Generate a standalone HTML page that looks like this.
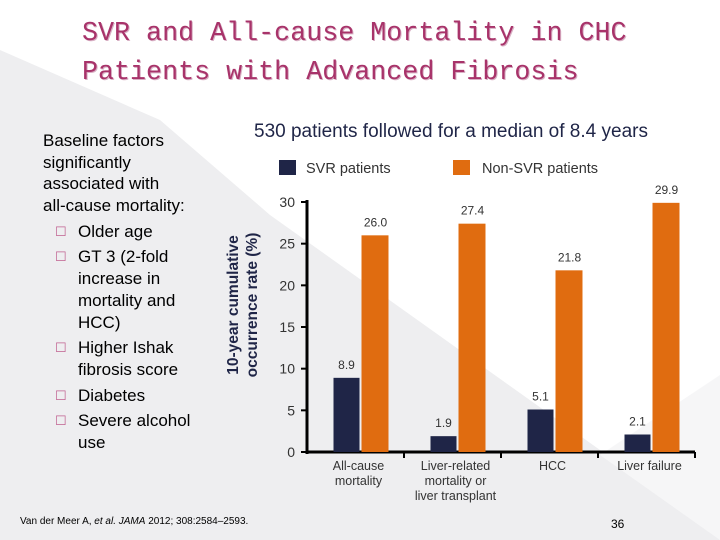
<!DOCTYPE html>
<html><head><meta charset="utf-8"><style>
body{margin:0;width:720px;height:540px;overflow:hidden;background:#fff;font-family:"Liberation Sans",Arial,sans-serif;position:relative}
.t{position:absolute;white-space:nowrap}
.l{height:21.7px;line-height:21.7px;position:relative}
.g{margin-top:4px}
.b{position:absolute;left:-23px;color:#c06090;font-size:13px}
</style></head><body>
<svg width="720" height="540" style="position:absolute;left:0;top:0">
<polygon points="0,50 160,120 270,215 600,450 720,530 720,540 0,540" fill="#eeeef0"/>
<polygon points="600,455 720,375 720,540" fill="#f6f6f7"/>
</svg>
<div class="t" style="left:82px;top:15px;font-family:'Liberation Mono',monospace;font-size:26.7px;line-height:38.5px;color:#a8336a;text-shadow:1px 1px 0 #d8b0c4">SVR and All-cause Mortality in CHC<br>Patients with Advanced Fibrosis</div>
<div class="t" style="left:254px;top:121px;font-size:19px;color:#1f2547">530 patients followed for a median of 8.4 years</div>
<div class="t" style="left:43px;top:130px;font-size:17px;color:#000">
<div class="l">Baseline factors</div><div class="l">significantly</div><div class="l">associated with</div><div class="l">all-cause mortality:</div>
<div style="position:relative;left:35px">
<div class="l g"><span class="b">&#9744;</span>Older age</div>
<div class="l g"><span class="b">&#9744;</span>GT 3 (2-fold</div><div class="l">increase in</div><div class="l">mortality and</div><div class="l">HCC)</div>
<div class="l g"><span class="b">&#9744;</span>Higher Ishak</div><div class="l">fibrosis score</div>
<div class="l g"><span class="b">&#9744;</span>Diabetes</div>
<div class="l g"><span class="b">&#9744;</span>Severe alcohol</div><div class="l">use</div></div></div>
<div class="t" style="left:20px;top:516px;font-size:10px;color:#000">Van der Meer A, <i>et al. JAMA</i> 2012; 308:2584–2593.</div>
<div class="t" style="left:611px;top:517px;font-size:12px;color:#000">36</div>
<svg id="chart" width="720" height="540" style="position:absolute;left:0;top:0"></svg>
<script>
const categories=[["All-cause","mortality"],["Liver-related","mortality or","liver transplant"],["HCC"],["Liver failure"]];
const svrValues=[8.9,1.9,5.1,2.1];
const nonSvrValues=[26.0,27.4,21.8,29.9];
const yTicks=[0,5,10,15,20,25,30];
const svg=document.getElementById('chart');
const NS='http://www.w3.org/2000/svg';
const x0=307,x1=695,y0=452,y1=202,yMax=30;
const y=v=>y0-(v/yMax)*(y0-y1);
const bw=(x1-x0)/categories.length;
function mk(t,a,txt){const e=document.createElementNS(NS,t);for(const k in a)e.setAttribute(k,a[k]);if(txt!==undefined)e.textContent=txt;svg.appendChild(e);return e;}
let e;
e=mk('line',{x1:x0,y1:y1-2,x2:x0,y2:y0+2,stroke:'#000','stroke-width':3});

e=mk('line',{x1:x0,y1:y0,x2:x1,y2:y0,stroke:'#000','stroke-width':3});

yTicks.forEach(t=>{
 e=mk('line',{x1:x0-6,y1:y(t),x2:x0,y2:y(t),stroke:'#000','stroke-width':2});
 
 e=mk('text',{x:x0-12,y:y(t)+5,'text-anchor':'end','font-size':14,fill:'#333'},t);
 
});
for(let i=1;i<=categories.length;i++){
 e=mk('line',{x1:x0+i*bw,y1:y0,x2:x0+i*bw,y2:y0+6,stroke:'#000','stroke-width':2});
 
}
categories.forEach((c,i)=>{
 const cx=x0+i*bw+bw/2;
 const a=cx-22,b=cx+6;
 e=mk('rect',{x:a,y:y(svrValues[i]),width:26,height:y0-y(svrValues[i]),fill:'#1f2547'});
 
 e=mk('rect',{x:b,y:y(nonSvrValues[i]),width:27,height:y0-y(nonSvrValues[i]),fill:'#e06c10'});
 
 e=mk('text',{x:a+13,y:y(svrValues[i])-9,'text-anchor':'middle','font-size':12,fill:'#333'},svrValues[i].toFixed(1));
 
 e=mk('text',{x:b+14,y:y(nonSvrValues[i])-9,'text-anchor':'middle','font-size':12,fill:'#333'},nonSvrValues[i].toFixed(1));
 
 c.forEach((ln,j)=>{
  e=mk('text',{x:cx+3,y:470+j*15,'text-anchor':'middle','font-size':12.5,fill:'#333'},ln);
  
 });
});
e=mk('rect',{x:279,y:160,width:17,height:15,fill:'#1f2547'});

e=mk('text',{x:306,y:173,'font-size':14.5,fill:'#333'},'SVR patients');

e=mk('rect',{x:453,y:160,width:17,height:15,fill:'#e06c10'});

e=mk('text',{x:482,y:173,'font-size':14.5,fill:'#333'},'Non-SVR patients');

e=mk('text',{transform:'translate(238,305) rotate(-90)','text-anchor':'middle','font-size':15.5,'font-weight':'bold',fill:'#1f2547'},'10-year cumulative');

e=mk('text',{transform:'translate(257,305) rotate(-90)','text-anchor':'middle','font-size':15.5,'font-weight':'bold',fill:'#1f2547'},'occurrence rate  (%)');

</script>
</body></html>
